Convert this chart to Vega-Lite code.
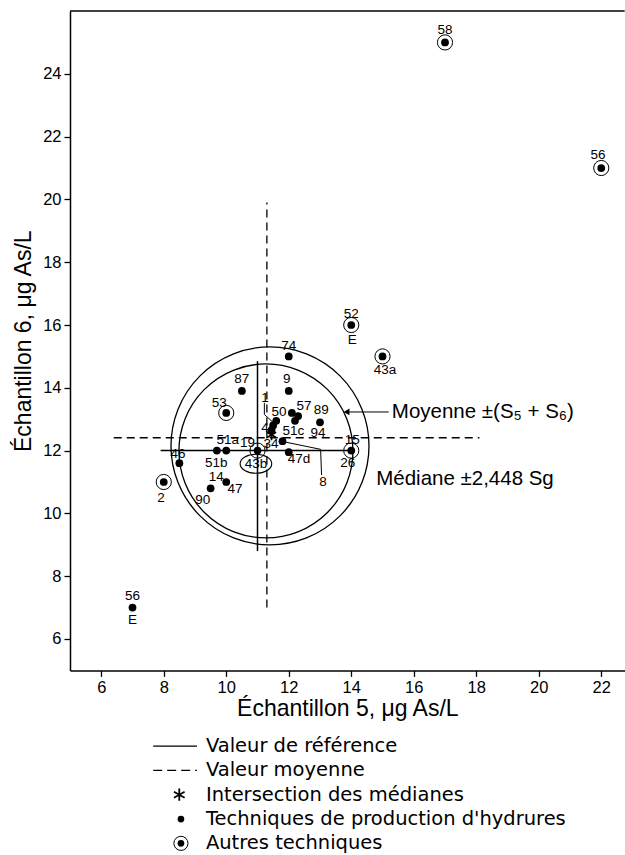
{
  "$schema": "https://vega.github.io/schema/vega-lite/v6.json",
  "autosize": {"type": "pad"},
  "padding": {"left": 12, "top": 10, "right": 0, "bottom": 0},
  "background": "white",
  "config": {
    "font": "Liberation Sans",
    "view": {"stroke": null},
    "axis": {"grid": false, "domainColor": "black", "tickColor": "black", "labelColor": "black", "titleColor": "black", "domainWidth": 1.5, "tickWidth": 1.3, "tickSize": 6, "labelFontSize": 16.5, "titleFontSize": 23, "titleFontWeight": "normal", "labelFont": "Liberation Sans", "titleFont": "Liberation Sans"},
    "text": {"font": "Liberation Sans", "color": "black"}
  },
  "datasets": {
    "pts": [
      {"id": "58", "x": 17, "y": 25, "t": "autre"},
      {"id": "56a", "x": 22, "y": 21, "t": "autre"},
      {"id": "52", "x": 14, "y": 16, "t": "autre"},
      {"id": "43a", "x": 15, "y": 15, "t": "autre"},
      {"id": "74", "x": 12, "y": 15, "t": "hyd"},
      {"id": "87", "x": 10.5, "y": 13.9, "t": "hyd"},
      {"id": "9", "x": 12, "y": 13.9, "t": "hyd"},
      {"id": "53", "x": 10, "y": 13.2, "t": "autre"},
      {"id": "50", "x": 12.1, "y": 13.2, "t": "hyd"},
      {"id": "57a", "x": 12.3, "y": 13.1, "t": "hyd"},
      {"id": "57b", "x": 12.2, "y": 12.95, "t": "hyd"},
      {"id": "89", "x": 13, "y": 12.9, "t": "hyd"},
      {"id": "4a", "x": 11.6, "y": 12.95, "t": "hyd"},
      {"id": "4b", "x": 11.5, "y": 12.8, "t": "hyd"},
      {"id": "4c", "x": 11.45, "y": 12.65, "t": "hyd"},
      {"id": "51c", "x": 11.8, "y": 12.3, "t": "hyd"},
      {"id": "43b", "x": 11, "y": 12, "t": "autre"},
      {"id": "51a", "x": 9.7, "y": 12, "t": "hyd"},
      {"id": "51b", "x": 10, "y": 12, "t": "hyd"},
      {"id": "47d", "x": 12, "y": 11.95, "t": "hyd"},
      {"id": "15", "x": 14, "y": 12, "t": "autre"},
      {"id": "46", "x": 8.5, "y": 11.6, "t": "hyd"},
      {"id": "14", "x": 10, "y": 11, "t": "hyd"},
      {"id": "90", "x": 9.5, "y": 10.8, "t": "hyd"},
      {"id": "2", "x": 8, "y": 11, "t": "autre"},
      {"id": "56b", "x": 7, "y": 7, "t": "hyd"}
    ],
    "labels": [
      {"lab": "58", "x": 17, "y": 25.39},
      {"lab": "56", "x": 21.9, "y": 21.4},
      {"lab": "52", "x": 14, "y": 16.34},
      {"lab": "E", "x": 14.03, "y": 15.52},
      {"lab": "43a", "x": 15.08, "y": 14.56},
      {"lab": "74", "x": 12, "y": 15.33},
      {"lab": "87", "x": 10.5, "y": 14.29},
      {"lab": "9", "x": 11.94, "y": 14.27},
      {"lab": "53", "x": 9.78, "y": 13.53},
      {"lab": "50", "x": 11.69, "y": 13.23},
      {"lab": "57", "x": 12.49, "y": 13.42},
      {"lab": "89", "x": 13.04, "y": 13.28},
      {"lab": "94", "x": 12.94, "y": 12.57},
      {"lab": "1", "x": 11.24, "y": 13.68},
      {"lab": "4", "x": 11.24, "y": 12.71},
      {"lab": "51c", "x": 12.15, "y": 12.62},
      {"lab": "34", "x": 11.43, "y": 12.2},
      {"lab": "51a", "x": 10.05, "y": 12.33},
      {"lab": "19", "x": 10.68, "y": 12.25},
      {"lab": "43b", "x": 10.95, "y": 11.58},
      {"lab": "51b", "x": 9.68, "y": 11.6},
      {"lab": "47d", "x": 12.33, "y": 11.74},
      {"lab": "15", "x": 14.03, "y": 12.33},
      {"lab": "26", "x": 13.89, "y": 11.61},
      {"lab": "8", "x": 13.1, "y": 11.01},
      {"lab": "46", "x": 8.46, "y": 11.88},
      {"lab": "14", "x": 9.68, "y": 11.17},
      {"lab": "47", "x": 10.28, "y": 10.79},
      {"lab": "90", "x": 9.25, "y": 10.42},
      {"lab": "2", "x": 7.91, "y": 10.49},
      {"lab": "56", "x": 7, "y": 7.37},
      {"lab": "E", "x": 7, "y": 6.6}
    ],
    "segs": [
      {"kind": "ref", "x1": 11, "y1": 8.8, "x2": 11, "y2": 14.85},
      {"kind": "ref", "x1": 7.9, "y1": 12, "x2": 14, "y2": 12},
      {"kind": "mean", "x1": 11.3, "y1": 7.0, "x2": 11.3, "y2": 19.9},
      {"kind": "mean", "x1": 6.4, "y1": 12.41, "x2": 18.1, "y2": 12.41},
      {"kind": "lead", "x1": 15.2, "y1": 13.23, "x2": 13.9, "y2": 13.23},
      {"kind": "lead", "x1": 13.05, "y1": 11.22, "x2": 13.02, "y2": 12.04},
      {"kind": "lead", "x1": 13.02, "y1": 12.04, "x2": 11.85, "y2": 12.28},
      {"kind": "lead", "x1": 11.22, "y1": 13.52, "x2": 11.22, "y2": 13.15},
      {"kind": "lead", "x1": 11.22, "y1": 13.15, "x2": 11.5, "y2": 12.9}
    ],
    "notes": [
      {"txt": "Moyenne ±(S₅ + S₆)", "x": 15.3, "y": 13.23},
      {"txt": "Médiane ±2,448 Sg", "x": 14.8, "y": 11.1}
    ],
    "legend": [
      {"k": 1, "sym": "solid", "txt": "Valeur de référence"},
      {"k": 2, "sym": "dashed", "txt": "Valeur moyenne"},
      {"k": 3, "sym": "star", "txt": "Intersection des médianes"},
      {"k": 4, "sym": "dot", "txt": "Techniques de production d'hydrures"},
      {"k": 5, "sym": "ring", "txt": "Autres techniques"}
    ]
  },
  "vconcat": [
    {
      "width": 554.7,
      "height": 659.4,
      "view": {"stroke": null},
      "layer": [
        {
          "data": {"values": [{"x": 5, "y": 26, "x2": 22.75, "y2": 26}]},
          "mark": {"type": "rule", "stroke": "black", "strokeWidth": 1.5},
          "encoding": {
            "x": {"field": "x", "type": "quantitative", "scale": {"domain": [5, 22.75], "nice": false, "zero": false},
                  "axis": {"values": [6, 8, 10, 12, 14, 16, 18, 20, 22], "title": "Échantillon 5, μg As/L", "titlePadding": 2, "labelPadding": 3}},
            "y": {"field": "y", "type": "quantitative", "scale": {"domain": [5, 26], "nice": false, "zero": false},
                  "axis": {"values": [6, 8, 10, 12, 14, 16, 18, 20, 22, 24], "title": "Échantillon 6, μg As/L", "titlePadding": 7.5, "labelPadding": 3}},
            "x2": {"field": "x2"},
            "y2": {"field": "y2"}
          }
        },
        {
          "data": {"values": [{"x": 11.27, "y": 11.99}]},
          "mark": {"type": "point", "filled": false, "stroke": "black", "strokeWidth": 1.3, "size": 30276, "opacity": 1},
          "encoding": {"x": {"field": "x", "type": "quantitative"}, "y": {"field": "y", "type": "quantitative"}}
        },
        {
          "data": {"values": [{"x": 11.4, "y": 12.15}]},
          "mark": {"type": "point", "filled": false, "stroke": "black", "strokeWidth": 1.3, "size": 39204, "opacity": 1},
          "encoding": {"x": {"field": "x", "type": "quantitative"}, "y": {"field": "y", "type": "quantitative"}}
        },
        {
          "data": {"name": "segs"},
          "transform": [{"filter": "datum.kind == 'ref'"}],
          "mark": {"type": "rule", "stroke": "black", "strokeWidth": 1.5},
          "encoding": {"x": {"field": "x1", "type": "quantitative"}, "y": {"field": "y1", "type": "quantitative"}, "x2": {"field": "x2"}, "y2": {"field": "y2"}}
        },
        {
          "data": {"name": "segs"},
          "transform": [{"filter": "datum.kind == 'mean'"}],
          "mark": {"type": "rule", "stroke": "black", "strokeWidth": 1.3, "strokeDash": [8, 5]},
          "encoding": {"x": {"field": "x1", "type": "quantitative"}, "y": {"field": "y1", "type": "quantitative"}, "x2": {"field": "x2"}, "y2": {"field": "y2"}}
        },
        {
          "data": {"name": "segs"},
          "transform": [{"filter": "datum.kind == 'lead'"}],
          "mark": {"type": "rule", "stroke": "black", "strokeWidth": 1},
          "encoding": {"x": {"field": "x1", "type": "quantitative"}, "y": {"field": "y1", "type": "quantitative"}, "x2": {"field": "x2"}, "y2": {"field": "y2"}}
        },
        {
          "data": {"values": [{"x": 13.85, "y": 13.23}]},
          "mark": {"type": "point", "shape": "triangle-left", "filled": true, "color": "black", "size": 45, "opacity": 1},
          "encoding": {"x": {"field": "x", "type": "quantitative"}, "y": {"field": "y", "type": "quantitative"}}
        },
        {
          "data": {"name": "pts"},
          "mark": {"type": "point", "filled": true, "color": "black", "size": 60, "opacity": 1},
          "encoding": {"x": {"field": "x", "type": "quantitative"}, "y": {"field": "y", "type": "quantitative"}}
        },
        {
          "data": {"name": "pts"},
          "transform": [{"filter": "datum.t == 'autre'"}],
          "mark": {"type": "point", "filled": false, "stroke": "black", "strokeWidth": 1, "size": 230, "opacity": 1},
          "encoding": {"x": {"field": "x", "type": "quantitative"}, "y": {"field": "y", "type": "quantitative"}}
        },
        {
          "data": {"values": [{"x": 11.45, "y": 12.5}]},
          "mark": {"type": "point", "shape": "M0,-1L0,1M-0.87,-0.5L0.87,0.5M-0.87,0.5L0.87,-0.5", "filled": false, "stroke": "black", "strokeWidth": 1.6, "size": 110, "opacity": 1},
          "encoding": {"x": {"field": "x", "type": "quantitative"}, "y": {"field": "y", "type": "quantitative"}}
        },
        {
          "data": {"values": [{"x": 10.95, "y": 11.58}]},
          "mark": {"type": "point", "shape": "M-1,0A1,0.6 0 1,0 1,0A1,0.6 0 1,0 -1,0Z", "filled": false, "stroke": "black", "strokeWidth": 1.1, "size": 1000, "opacity": 1},
          "encoding": {"x": {"field": "x", "type": "quantitative"}, "y": {"field": "y", "type": "quantitative"}}
        },
        {
          "data": {"name": "labels"},
          "mark": {"type": "text", "fontSize": 13.5, "align": "center", "baseline": "middle", "color": "black"},
          "encoding": {"x": {"field": "x", "type": "quantitative"}, "y": {"field": "y", "type": "quantitative"}, "text": {"field": "lab"}}
        },
        {
          "data": {"name": "notes"},
          "mark": {"type": "text", "fontSize": 20.5, "align": "left", "baseline": "middle", "color": "black"},
          "encoding": {"x": {"field": "x", "type": "quantitative"}, "y": {"field": "y", "type": "quantitative"}, "text": {"field": "txt"}}
        }
      ]
    },
    {
      "width": 554.7,
      "height": 121.5,
      "view": {"stroke": null},
      "data": {"name": "legend"},
      "encoding": {
        "y": {"field": "k", "type": "ordinal", "scale": {"type": "point", "padding": 0.5}, "axis": null}
      },
      "layer": [
        {
          "transform": [{"filter": "datum.sym == 'solid'"}],
          "mark": {"type": "rule", "stroke": "black", "strokeWidth": 1.3},
          "encoding": {"x": {"datum": 15.0, "type": "quantitative", "scale": {"domain": [0, 100]}, "axis": null}, "x2": {"datum": 22.9}}
        },
        {
          "transform": [{"filter": "datum.sym == 'dashed'"}],
          "mark": {"type": "rule", "stroke": "black", "strokeWidth": 1.3, "strokeDash": [9, 5]},
          "encoding": {"x": {"datum": 15.0, "type": "quantitative"}, "x2": {"datum": 22.9}}
        },
        {
          "transform": [{"filter": "datum.sym == 'star'"}],
          "mark": {"type": "point", "shape": "M0,-1L0,1M-0.87,-0.5L0.87,0.5M-0.87,0.5L0.87,-0.5", "filled": false, "stroke": "black", "strokeWidth": 1.8, "size": 150, "opacity": 1},
          "encoding": {"x": {"datum": 19.7, "type": "quantitative"}}
        },
        {
          "transform": [{"filter": "datum.sym == 'dot' || datum.sym == 'ring'"}],
          "mark": {"type": "point", "filled": true, "color": "black", "size": 45, "opacity": 1},
          "encoding": {"x": {"datum": 20.0, "type": "quantitative"}}
        },
        {
          "transform": [{"filter": "datum.sym == 'ring'"}],
          "mark": {"type": "point", "filled": false, "stroke": "black", "strokeWidth": 1, "size": 200, "opacity": 1},
          "encoding": {"x": {"datum": 20.0, "type": "quantitative"}}
        },
        {
          "mark": {"type": "text", "font": "DejaVu Sans", "fontSize": 19.5, "align": "left", "baseline": "middle", "color": "black"},
          "encoding": {"x": {"datum": 24.5, "type": "quantitative"}, "text": {"field": "txt"}}
        }
      ]
    }
  ],
  "spacing": 13
}
